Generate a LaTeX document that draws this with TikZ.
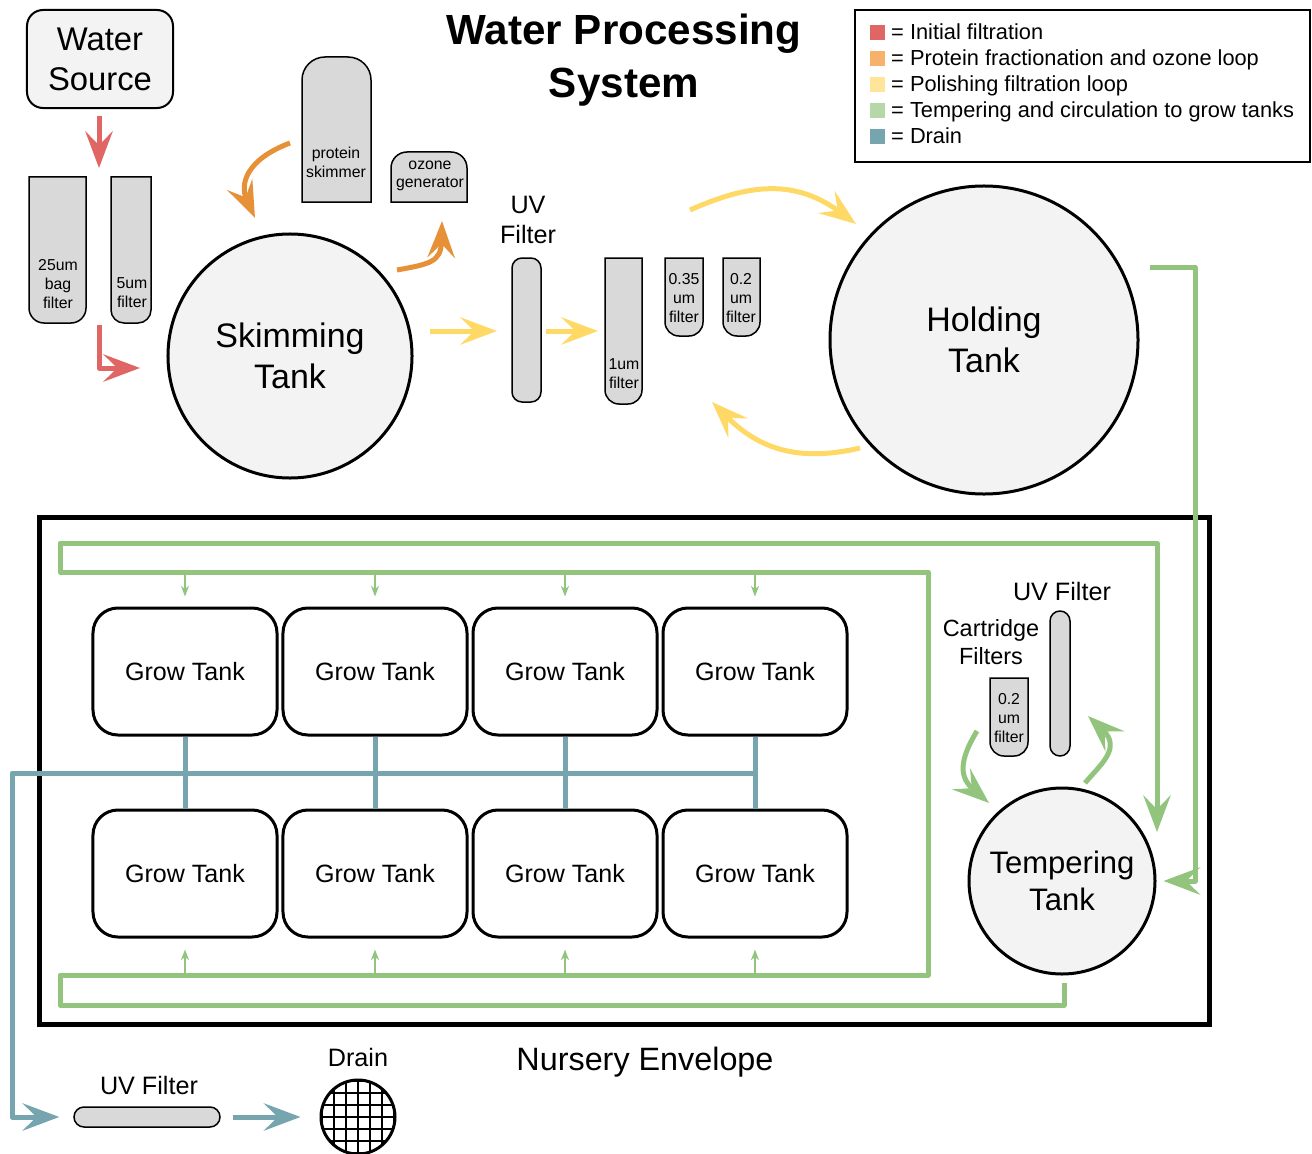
\documentclass[tikz,border=0pt]{standalone}
\usepackage{fontspec}
\setmainfont{Liberation Sans}
\usetikzlibrary{arrows.meta,calc}

\definecolor{initred}{HTML}{E06666}
\definecolor{ozorange}{HTML}{E69138}
\definecolor{polyellow}{HTML}{FFD966}
\definecolor{circgreen}{HTML}{93C47D}
\definecolor{draincyan}{HTML}{76A5AF}
\definecolor{keyorange}{HTML}{F6B26B}
\definecolor{keyyellow}{HTML}{FFE599}
\definecolor{keygreen}{HTML}{B6D7A8}
\definecolor{tankfill}{HTML}{F3F3F3}
\definecolor{filterfill}{HTML}{D9D9D9}

\tikzset{
  flow/.style={line width=0.15cm, line join=round, -{Stealth[length=1.1cm,width=0.82cm,inset=0.42cm]}},
  pipe/.style={line width=0.15cm, draincyan},
  feed/.style={circgreen, line width=0.045cm, -{Stealth[length=0.32cm,width=0.24cm,inset=0.1cm]}},
  tank/.style={circle, draw, line width=0.09cm, fill=tankfill, inner sep=0pt, align=center},
  growtank/.style={draw, fill=white, line width=0.09cm, rounded corners=0.75cm, minimum width=5.52cm, minimum height=3.81cm, font=\fontsize{21.4}{26}\selectfont},
  cartridge/.style={draw, line width=0.045cm, fill=filterfill},
  filtertext/.style={align=center, inner sep=0pt, font=\fontsize{13.5}{16}\selectfont},
  caption/.style={align=center, inner sep=0pt, font=\fontsize{21.5}{26}\selectfont},
}

\begin{document}
\begin{tikzpicture}[x=0.03cm,y=-0.03cm]
  \useasboundingbox (0,0) rectangle (1312,1154);

  % title and key
  \node[align=center, font=\fontsize{36}{45}\selectfont\bfseries] (title) at (624,60) {Water Processing\\System};
  \draw[line width=0.06cm] (855,10) rectangle (1310,162);
  \foreach \c/\t [count=\i] in {initred/Initial filtration, keyorange/Protein fractionation and ozone loop, keyyellow/Polishing filtration loop, keygreen/Tempering and circulation to grow tanks, draincyan/Drain} {
    \fill[\c] (870,{26*\i-0.5}) rectangle ++(15,15);
    \node[anchor=base west, inner sep=0pt, font=\fontsize{18.6}{22}\selectfont] (key\i) at (891,{14+26*\i}) {= \t};
  }

  % initial filtration
  \node[draw, fill=tankfill, line width=0.06cm, rounded corners=0.48cm, minimum width=4.38cm, minimum height=2.94cm, align=center, font=\fontsize{28}{34}\selectfont] (source) at (100,59) {Water\\Source};
  \draw[cartridge] (29,177) -- (29,308) arc[start angle=180,end angle=90,radius=15] -- (71,323) arc[start angle=90,end angle=0,radius=15] -- (86,177) -- cycle;
  \draw[cartridge] (111,177) -- (111,310) arc[start angle=180,end angle=90,radius=13] -- (138,323) arc[start angle=90,end angle=0,radius=13] -- (151,177) -- cycle;
  \node[filtertext] (bag) at (58,284) {25um\\bag\\filter};
  \node[filtertext] (fivemu) at (132,293) {5um\\filter};
  \node[tank, minimum size=7.32cm, font=\fontsize{29}{35}\selectfont] (skim) at (290,356) {Skimming\\Tank};
  \coordinate (gap) at (99,168);
  \coordinate (gapout) at (99,325);
  \coordinate (skimin) at (140,368);
  \draw[flow, initred, shorten <=0.21cm] (source.south -| gap) -- (gap);
  \draw[flow, initred] (gapout) |- (skimin);

  % protein skimmer and ozone
  \draw[cartridge] (302,202) -- (302,80) arc[start angle=180,end angle=270,radius=23] -- (348,57) arc[start angle=270,end angle=360,radius=23] -- (371,202) -- cycle;
  \draw[cartridge] (391,202) -- (391,168) arc[start angle=180,end angle=270,radius=16] -- (451,152) arc[start angle=270,end angle=360,radius=16] -- (467,202) -- cycle;
  \node[filtertext] (skimmer) at (336,162) {protein\\skimmer};
  \node[filtertext] (ozone) at (430,176) {ozone\\generator};
  \coordinate (skimmerout) at (290,143);
  \coordinate (skimtop) at (255,218);
  \coordinate (skimout) at (397,270);
  \coordinate (ozonein) at (442,221);
  \draw[flow, ozorange] (skimmerout) .. controls (245,160) and (240,185) .. (skimtop);
  \draw[flow, ozorange] (skimout) .. controls (430,264) and (441,262) .. (ozonein);

  % polishing loop
  \draw[cartridge, rounded corners=0.3cm] (512,258) rectangle (541,402);
  \node[caption] (uvtop) at (528,220) {UV\\Filter};
  \draw[cartridge] (605,258) -- (605,390) arc[start angle=180,end angle=90,radius=14] -- (628,404) arc[start angle=90,end angle=0,radius=14] -- (642,258) -- cycle;
  \draw[cartridge] (665,258) -- (665,322) arc[start angle=180,end angle=90,radius=14] -- (689,336) arc[start angle=90,end angle=0,radius=14] -- (703,258) -- cycle;
  \draw[cartridge] (723,258) -- (723,322) arc[start angle=180,end angle=90,radius=14] -- (746,336) arc[start angle=90,end angle=0,radius=14] -- (760,258) -- cycle;
  \node[filtertext] (onemu) at (624,374) {1um\\filter};
  \node[filtertext] (pointthree) at (684,298) {0.35\\um\\filter};
  \node[filtertext] (pointtwo) at (741,298) {0.2\\um\\filter};
  \node[tank, minimum size=9.24cm, font=\fontsize{29}{35}\selectfont] (hold) at (984,340) {Holding\\Tank};
  \coordinate (skimeast) at (430,331);
  \coordinate (uvin) at (497,331);
  \coordinate (uvout) at (546,331);
  \coordinate (onein) at (598,331);
  \draw[flow, polyellow] (skimeast) -- (uvin);
  \draw[flow, polyellow] (uvout) -- (onein);
  \coordinate (polishout) at (690,210);
  \coordinate (holdin) at (856,224);
  \coordinate (holdback) at (860,448);
  \coordinate (polishin) at (712,402);
  \draw[flow, polyellow] (polishout) .. controls (740,188) and (790,175) .. (holdin);
  \draw[flow, polyellow] (holdback) .. controls (800,462) and (760,450) .. (polishin);

  % nursery envelope
  \draw[line width=0.15cm] (39,517) rectangle (1209,1024);
  \node[align=center, inner sep=0pt, font=\fontsize{27.6}{32}\selectfont] (envelope) at (645,1062) {Nursery Envelope};

  % tempering tank and its filters
  \node[tank, minimum size=5.58cm, font=\fontsize{26.5}{32}\selectfont] (temper) at (1062,881) {Tempering\\Tank};
  \draw[cartridge, rounded corners=0.3cm] (1050,611) rectangle (1070,756);
  \node[caption] (uvright) at (1062,591) {UV Filter};
  \draw[cartridge] (990,678) -- (990,742) arc[start angle=180,end angle=90,radius=14] -- (1014,756) arc[start angle=90,end angle=0,radius=14] -- (1028,678) -- cycle;
  \node[filtertext] (pointtworight) at (1009,718) {0.2\\um\\filter};
  \node[align=center, inner sep=0pt, font=\fontsize{20}{24}\selectfont] (cartridges) at (991,642) {Cartridge\\Filters};
  \coordinate (cartout) at (977,731);
  \coordinate (temperin) at (989,803);
  \coordinate (temperout) at (1085,783);
  \coordinate (uvrightin) at (1088,716);
  \draw[flow, circgreen] (cartout) .. controls (958,762) and (960,778) .. (temperin);
  \draw[flow, circgreen] (temperout) .. controls (1100,765) and (1122,748) .. (uvrightin);

  % circulation to grow tanks
  \coordinate (holdout) at (1150,267);
  \draw[flow, circgreen, shorten >=0.21cm] (holdout) -- (1195,267) |- (temper.east);
  \coordinate (loopstart) at (1064,983);
  \coordinate (loopend) at (1157,832);
  \draw[flow, circgreen] (loopstart) -- (1064,1005) -- (60,1005) -- (60,975) -- (928,975) -- (928,572)
    -- (60,572) -- (60,543) -- (1157,543) -- (loopend);
  \coordinate (feedtop) at (0,573);
  \coordinate (feedbot) at (0,975);

  % grow tanks
  \foreach \x [count=\i] in {185,375,565,755} {
    \node[growtank] (top\i) at (\x,671.5) {Grow Tank};
    \node[growtank] (bot\i) at (\x,873.5) {Grow Tank};
    \draw[pipe] (top\i.south) -- (bot\i.north);
    \draw[feed, shorten >=0.3cm] (top\i.north |- feedtop) -- (top\i.north);
    \draw[feed, shorten >=0.33cm] (bot\i.south |- feedbot) -- (bot\i.south);
  }

  % drain
  \node[draw, fill=filterfill, line width=0.045cm, rounded corners=0.3cm, minimum width=4.38cm, minimum height=0.6cm, inner sep=0pt] (uvlow) at (147,1117) {};
  \node[caption] (uvlowlabel) at (149,1085) {UV Filter};
  \node[circle, draw, line width=0.09cm, minimum size=2.22cm, inner sep=0pt] (drain) at (358,1117) {};
  \begin{scope}
    \clip (358,1117) circle (37);
    \foreach \k in {-3,...,3} {
      \draw[line width=0.04cm] (358+12*\k,1078) -- ++(0,78);
      \draw[line width=0.04cm] (319,1117+12*\k) -- ++(78,0);
    }
  \end{scope}
  \node[caption] (drainlabel) at (358,1057) {Drain};
  \coordinate (drainbus) at (755,773);
  \draw[flow, draincyan, shorten >=0.42cm] (drainbus) -- (12,773) |- (uvlow.west);
  \draw[flow, draincyan, shorten <=0.36cm, shorten >=0.57cm] (uvlow.east) -- (drain.west);

\end{tikzpicture}
\end{document}
